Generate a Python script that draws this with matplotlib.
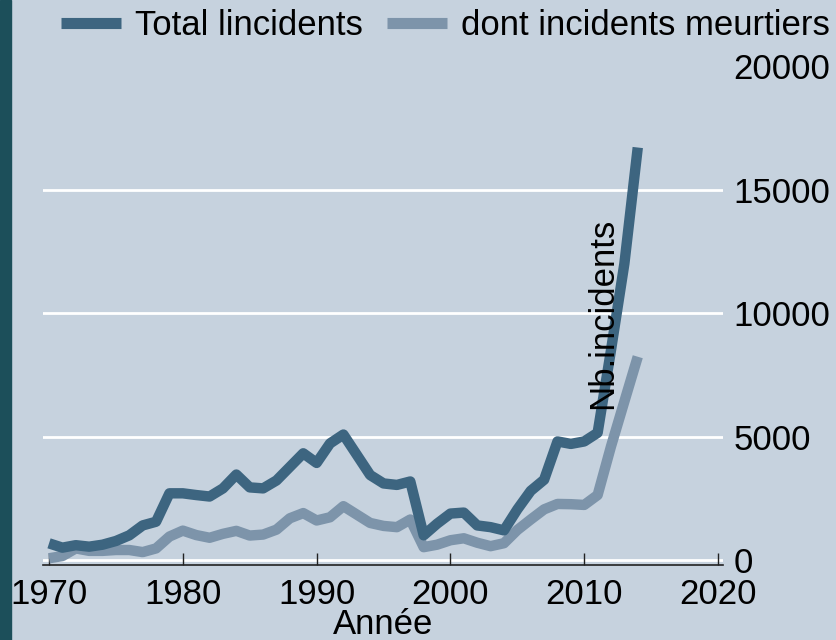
import numpy as np
import matplotlib
matplotlib.use('Agg')
import matplotlib.pyplot as plt
from matplotlib.patches import Rectangle
from matplotlib.lines import Line2D

plt.rcParams['font.family'] = ['Liberation Sans', 'DejaVu Sans']
plt.rcParams['font.size'] = 25

# data (1993 missing)
years = [1970, 1971, 1972, 1973, 1974, 1975, 1976, 1977, 1978, 1979,
         1980, 1981, 1982, 1983, 1984, 1985, 1986, 1987, 1988, 1989,
         1990, 1991, 1992, 1994, 1995, 1996, 1997, 1998, 1999,
         2000, 2001, 2002, 2003, 2004, 2005, 2006, 2007, 2008, 2009,
         2010, 2011, 2012, 2013, 2014]
total = [675, 500, 600, 540, 620, 770, 1000, 1400, 1550, 2700,
         2700, 2630, 2570, 2900, 3460, 2940, 2900, 3220, 3770, 4320,
         3930, 4720, 5080, 3440, 3100, 3040, 3180, 1000, 1470,
         1880, 1920, 1400, 1330, 1200, 2050, 2800, 3250, 4800, 4700,
         4800, 5150, 8500, 12000, 16700]
deadly = [70, 160, 470, 370, 370, 405, 405, 320, 470, 950,
          1190, 1010, 900, 1060, 1180, 990, 1030, 1230, 1690, 1900,
          1600, 1730, 2180, 1500, 1380, 1330, 1640, 520, 620,
          800, 880, 700, 560, 680, 1215, 1640, 2050, 2270, 2260,
          2230, 2630, 4600, 6420, 8230]
xticks = [1970, 1980, 1990, 2000, 2010, 2020]
yticks = [0, 5000, 10000, 15000, 20000]

bg = '#C6D2DE'
c_total = '#3D6580'
c_dead = '#7D94AA'

fig = plt.figure(figsize=(8.36, 6.4), dpi=100, facecolor=bg)
fig.patches.append(Rectangle((0, 0), 11/836, 1, transform=fig.transFigure,
                             color='#1C4F5A', zorder=0))
ax = fig.add_axes([43/836, 1-565/640, 680/836, 499/640])
ax.set_facecolor(bg)

for g in yticks[:-1]:
    ax.axhline(g, color='white', lw=2, zorder=1)

ax.plot(years, total, color=c_total, lw=7.5, solid_capstyle='butt', zorder=3)
ax.plot(years, deadly, color=c_dead, lw=7.5, solid_capstyle='butt', zorder=2)

ax.set_xlim(1969.55, 2020.37)
ax.set_ylim(-202, 20000)
ax.set_xticks(xticks)
ax.set_yticks(yticks)
ax.yaxis.tick_right()
ax.tick_params(axis='y', length=0, pad=7.5)
ax.tick_params(axis='x', direction='in', length=8.6, width=1, color='#222222', pad=9.5)

for s in ['top', 'left', 'right']:
    ax.spines[s].set_visible(False)
ax.spines['bottom'].set_linewidth(1.2)
ax.spines['bottom'].set_color('#222222')

ax.set_xlabel('Année', labelpad=-2)
ax.set_ylabel('Nb.incidents')
ax.yaxis.set_label_position('right')
ax.yaxis.set_label_coords(0.8235, 0.505)
ax.yaxis.label.set_va('center')
ax.yaxis.label.set_rotation(90)
ax.yaxis.set_zorder(5)

handles = [Line2D([], [], color=c_total, lw=8, solid_capstyle='butt'),
           Line2D([], [], color=c_dead, lw=8, solid_capstyle='butt')]
fig.legend(handles, ['Total lincidents', 'dont incidents meurtiers'],
           loc='upper right', bbox_to_anchor=(830/836, 1-9/640), ncol=2,
           frameon=False, handlelength=1.73, handletextpad=0.4,
           columnspacing=0.69, borderpad=0, borderaxespad=0)

fig.savefig('out.png', dpi=100, facecolor=bg)
